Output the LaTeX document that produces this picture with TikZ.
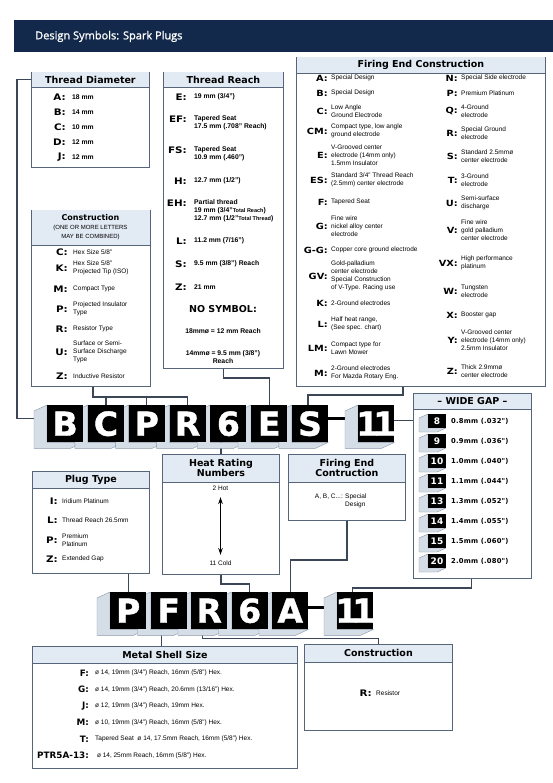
\documentclass[tikz,border=0pt]{standalone}
\usepackage{fontspec}
\setmainfont{Liberation Sans}
\newfontfamily\blackfont{DejaVu Sans}
\newfontfamily\keyfont{DejaVu Sans}[FakeStretch=1.15]
\newfontfamily\platefont{DejaVu Sans Bold}[FakeBold=1.2]
\newfontfamily\gapfont{DejaVu Sans}[LetterSpace=3.0]
\newfontfamily\capfont{Open Sans}[FakeBold=1.2]
\usepackage{tikz}
\usetikzlibrary{calc,backgrounds,arrows.meta}
\definecolor{navy}{HTML}{13294B}
\definecolor{edge}{HTML}{56657A}
\definecolor{bandL}{HTML}{E2EAF4}
\definecolor{faceL}{HTML}{D5DDE7}
\definecolor{faceD}{HTML}{8A97A8}
\definecolor{wireC}{HTML}{3B4756}
\tikzset{
  panel/.style ={draw=edge, line width=.9pt, fill=white, inner sep=0pt, anchor=north west},
  ttl/.style   ={font=\blackfont\bfseries\fontsize{9.5}{10}\selectfont, align=center, inner sep=0pt},
  key/.style   ={font=\keyfont\bfseries\fontsize{9}{9}\selectfont, anchor=east, inner sep=0pt},
  keys/.style  ={key, font=\keyfont\bfseries\fontsize{8.5}{9}\selectfont},
  keym/.style  ={key, font=\blackfont\bfseries\fontsize{8.8}{9}\selectfont},
  dsc/.style   ={font=\fontsize{6.5}{8}\selectfont, anchor=west, align=left, inner sep=0pt},
  dscb/.style  ={dsc, font=\bfseries\fontsize{6.8}{8}\selectfont},
  wire/.style  ={draw=wireC, line width=1.2pt},
  bar/.style   ={draw=black, line width=3.5pt},
  side/.style  ={fill=faceL, draw=faceD, line width=.4pt, line join=round},
  plate/.style ={fill=black, text=white, minimum width=36pt, minimum height=37pt, inner sep=0pt,
                 anchor=north west, font=\platefont\fontsize{33}{33}\selectfont},
  chip/.style  ={fill=black, text=white, minimum width=18pt, minimum height=14pt, inner sep=0pt,
                 font=\blackfont\bfseries\fontsize{9}{9}\selectfont},
  gap/.style   ={font=\gapfont\bfseries\fontsize{6.8}{8}\selectfont, anchor=west, inner sep=0pt},
  hr/.style    ={{Stealth[length=7pt,width=4.5pt]}-{Stealth[length=7pt,width=4.5pt]}, line width=.9pt},
}
% box with a light title band
\newcommand\panel[7]{%
  \node[panel, minimum width=#4pt, minimum height=#5pt] (#1) at (#2,#3) {};
  \fill[bandL] ([shift={(.5,.5)}]#1.north west) rectangle ([shift={(-.5,#6)}]#1.north east);
  \draw[edge, line width=.6pt] ([yshift=-#6pt]#1.north west) -- ([yshift=-#6pt]#1.north east);
  \node[ttl] (#1-t) at ($(#1.north)+(0,#6/2)$) {#7};
}

\begin{document}
\begin{tikzpicture}[x=1pt,y=-1pt]
  \useasboundingbox (0,0) rectangle (553,783);
  \fill[navy] (14,20) rectangle (553,52);
  \node[anchor=west, text=white, inner sep=0pt, font=\capfont\fontsize{11}{12}\selectfont] (head) at (35,36.5) {Design Symbols: Spark Plugs};

  % upper boxes
  \panel{tdia}{31}{72}{118}{95}{15}{Thread Diameter}
  \foreach \k/\v/\y [count=\i] in {A/18 mm/97, B/14 mm/112, C/10 mm/127, D/12 mm/142, J/12 mm/157}{
    \node[key] (td\i) at (66,\y) {\k:};
    \node[dscb] (tdv\i) at (72,\y) {\v};
  }

  \panel{treach}{163}{72}{120}{296}{15}{Thread Reach}
  \node[key] (tr1) at (187,97) {E:};   \node[dscb] (trv1) at (194,97) {19 mm (3/4")};
  \node[key] (tr2) at (187,119) {EF:}; \node[dscb] (trv2) at (194,123) {Tapered Seat\\17.5 mm (.708" Reach)};
  \node[key] (tr3) at (187,150) {FS:}; \node[dscb] (trv3) at (194,154) {Tapered Seat\\10.9 mm (.460")};
  \node[key] (tr4) at (187,181) {H:};  \node[dscb] (trv4) at (194,181) {12.7 mm (1/2")};
  \node[key] (tr5) at (187,203) {EH:}; \node[dscb] (trv5) at (194,211) {Partial thread\\19 mm (3/4"{\fontsize{5.5}{8}\selectfont Total Reach})\\12.7 mm (1/2"{\fontsize{5.5}{8}\selectfont Total Thread})};
  \node[key] (tr6) at (187,241) {L:};  \node[dscb] (trv6) at (194,241) {11.2 mm (7/16")};
  \node[key] (tr7) at (187,264) {S:};  \node[dscb] (trv7) at (194,264) {9.5 mm (3/8") Reach};
  \node[key] (tr8) at (187,287) {Z:};  \node[dscb] (trv8) at (194,287) {21 mm};
  \node[ttl] (nosym) at (223,309) {NO SYMBOL:};
  \node[dscb, anchor=center, align=center] (ns1) at (223,331) {18mmø = 12 mm Reach};
  \node[dscb, anchor=center, align=center] (ns2) at (223,357) {14mmø = 9.5 mm (3/8")\\Reach};

  \panel{fire}{296}{57}{249}{329}{16}{Firing End Construction}
  \foreach \k/\v/\y [count=\i] in {A/Special Design/78, B/Special Design/93,
      C/{Low Angle\\Ground Electrode}/111, CM/{Compact type, low angle\\ground electrode}/131,
      E/{V-Grooved center\\electrode (14mm only)\\1.5mm Insulator}/155,
      ES/{Standard 3/4" Thread Reach\\(2.5mm) center electrode}/180, F/Tapered Seat/202,
      G/{Fine wire\\nickel alloy center\\electrode}/226, G-G/Copper core ground electrode/250,
      GV/{Gold-palladium\\center electrode\\Special Construction\\of V-Type. Racing use}/276,
      K/2-Ground electrodes/303, L/{Half heat range,\\(See spec. chart)}/324,
      LM/{Compact type for\\Lawn Mower}/348, M/{2-Ground electrodes\\For Mazda Rotary Eng.}/373}{
    \node[keys] (fl\i) at (328,\y) {\k:};
    \node[dsc] (flv\i) at (331,\y) {\v};
  }
  \foreach \k/\v/\y [count=\i] in {N/Special Side electrode/78, P/Premium Platinum/93,
      Q/{4-Ground\\electrode}/111, R/{Special Ground\\electrode}/133,
      S/{Standard 2.5mmø\\center electrode}/156, T/{3-Ground\\electrode}/180,
      U/{Semi-surface\\discharge}/203, V/{Fine wire\\gold palladium\\center electrode}/230,
      VX/{High performance\\platinum}/263, W/{Tungsten\\electrode}/291, X/Booster gap/315,
      Y/{V-Grooved center\\electrode (14mm only)\\2.5mm Insulator}/340,
      Z/{Thick 2.9mmø\\center electrode}/371}{
    \node[keys] (fr\i) at (458,\y) {\k:};
    \node[dsc] (frv\i) at (461,\y) {\v};
  }

  \panel{cons}{31}{210}{119}{176}{35}{}
  \node[ttl, font=\blackfont\bfseries\fontsize{8}{9}\selectfont] (cons-t1) at (90.5,218) {Construction};
  \node[dsc, anchor=center, align=center, font=\fontsize{6}{9}\selectfont] (cons-t2) at (90.5,232) {(ONE OR MORE LETTERS\\MAY BE COMBINED)};
  \foreach \k/\v/\y [count=\i] in {C/{Hex Size 5/8"}/252, K/{Hex Size 5/8"\\Projected Tip (ISO)}/268,
      M/Compact Type/289, P/{Projected Insulator\\Type}/309, R/Resistor Type/329,
      U/{Surface or Semi-\\Surface Discharge\\Type}/352, Z/Inductive Resistor/376}{
    \node[key] (cs\i) at (68,\y) {\k:};
    \node[dsc] (csv\i) at (73,\y) {\v};
  }

  \panel{wgap}{413}{393}{118}{185}{16}{– WIDE GAP –}
  \foreach \g/\v [count=\i from 0] in {8/{0.8mm (.032")}, 9/{0.9mm (.036")}, 10/{1.0mm (.040")},
      11/{1.1mm (.044")}, 13/{1.3mm (.052")}, 14/{1.4mm (.055")}, 15/{1.5mm (.060")}, 20/{2.0mm (.080")}}{
    \path[side] (428,421+20*\i-7) -- (419,421+20*\i-3) -- (419,421+20*\i+11)
      -- (437,421+20*\i+11) -- (446,421+20*\i+7) -- (428,421+20*\i+7) -- cycle;
    \node[chip] (wg\i) at (437,421+20*\i) {\g};
    \node[gap] (wgv\i) at (451,421+20*\i) {\v};
  }

  % lower boxes
  \panel{ptype}{32}{471}{117}{102}{17}{Plug Type}
  \foreach \k/\v/\y [count=\i] in {I/Iridium Platinum/501, L/Thread Reach 26.5mm/520,
      P/{Premium\\Platinum}/540, Z/Extended Gap/559}{
    \node[key] (pt\i) at (58,\y) {\k:};
    \node[dsc] (ptv\i) at (62,\y) {\v};
  }

  \panel{heat}{162}{454}{117}{120}{28}{Heat Rating\\Numbers}
  \node[dsc, anchor=center] (hot) at (220.5,488) {2 Hot};
  \node[dsc, anchor=center] (cold) at (220.5,563) {11 Cold};
  \draw[hr] ([yshift=-9pt]hot.center) -- ([yshift=8pt]cold.center);

  \panel{fec}{288}{454}{117}{66}{28}{Firing End\\Contruction}
  \node[dsc, anchor=east] (fec-k) at (343,497) {A, B, C...:};
  \node[dsc] (fec-v) at (345,501) {Special\\Design};

  \panel{mshell}{32}{646}{265}{122}{17}{Metal Shell Size}
  \foreach \k/\v/\y [count=\i] in {F/{ø 14, 19mm (3/4") Reach, 16mm (5/8") Hex.}/673,
      G/{ø 14, 19mm (3/4") Reach, 20.6mm (13/16") Hex.}/689.5,
      J/{ø 12, 19mm (3/4") Reach, 19mm Hex.}/706,
      M/{ø 10, 19mm (3/4") Reach, 16mm (5/8") Hex.}/722.5,
      T/{Tapered Seat\ \ ø 14, 17.5mm Reach, 16mm (5/8") Hex.}/739,
      PTR5A-13/{\ ø 14, 25mm Reach, 16mm (5/8") Hex.}/755.5}{
    \node[keym] (ms\i) at (89,\y) {\k:};
    \node[dsc] (msv\i) at (95,\y) {\v};
  }

  \panel{cbot}{304}{644}{148}{86}{18}{Construction}
  \node[key] (cb1) at (372,693) {R:};
  \node[dsc] (cbv1) at (376,693) {Resistor};

  % code plates
  \foreach \t [count=\i] in {B,C,P,R,6,E,S}
    \node[plate] (b\i) at ({47+40.8*(\i-1)},405) {\t};
  \node[plate] (b8) at (358,405) {\makebox[0pt]{1\kern-6pt1}};
  \foreach \t [count=\i] in {P,F,R,6,A}
    \node[plate] (c\i) at ({110+40.5*(\i-1)},592) {\t};
  \node[plate] (c6) at (337,592) {\makebox[0pt]{1\kern-6pt1}};

  \begin{scope}[on background layer]
    \fill[white] (0,0) rectangle (553,783);
    \draw[wire] ([yshift=-7.5pt]tdia.north west) -- ++(-14,0) |- ([yshift=5pt]b1.west);
    \coordinate (bus) at ([yshift=8pt]b2.north);
    \draw[wire] ([xshift=2pt]cons.south) |- (bus) -| (b4.north);
    \draw[wire] (bus) -- (b2.north);
    \draw[wire] (bus -| b3.north) -- (b3.north);
    \draw[wire] (treach.south) -- ++(0,9) -| (b6.north);
    \draw[wire] ([xshift=-18pt]fire.south) -- ++(0,8) -| ([xshift=-2pt]b7.north);
    \coordinate (g11) at ([yshift=3pt]b8.east);
    \draw[wire] (g11) -- (g11 -| wgap.west);
    \draw[wire] ([xshift=-1pt]wgap.south) -- ++(0,9) -| ([xshift=-3pt]c6.north);
    \draw[wire] (heat.north) -- (heat.north |- b5.south);
    \draw[wire] (heat.south) -- ++(0,9) -| (c4.north);
    \draw[wire] (ptype.south -| c1.north) -- (c1.north);
    \draw[wire] (fec.south) -- ++(0,39) -| (c5.north);
    \coordinate (f2) at ([xshift=-7pt]c2.south);
    \draw[wire] (f2) -- (f2 |- mshell.north);
    \coordinate (f3) at ([xshift=-7pt]c3.south);
    \draw[wire] (f3) -- ++(0,9) -| (cbot.north);
    \draw[bar] ([yshift=5pt]b7.east) -- ([yshift=5pt]b8.west);
    \draw[bar] ([yshift=3pt]c5.east) -- ([yshift=3pt]c6.west);
    \foreach \n in {b1,b2,b3,b4,b5,b6,b7,b8,c1,c2,c3,c4,c5,c6}
      \path[side] (\n.north west) -- ++(-13,6) -- ([shift={(-13,6)}]\n.south west)
        -- ([shift={(-13,6)}]\n.south east) -- (\n.south east) -- (\n.south west) -- cycle;
  \end{scope}
\end{tikzpicture}
\end{document}
